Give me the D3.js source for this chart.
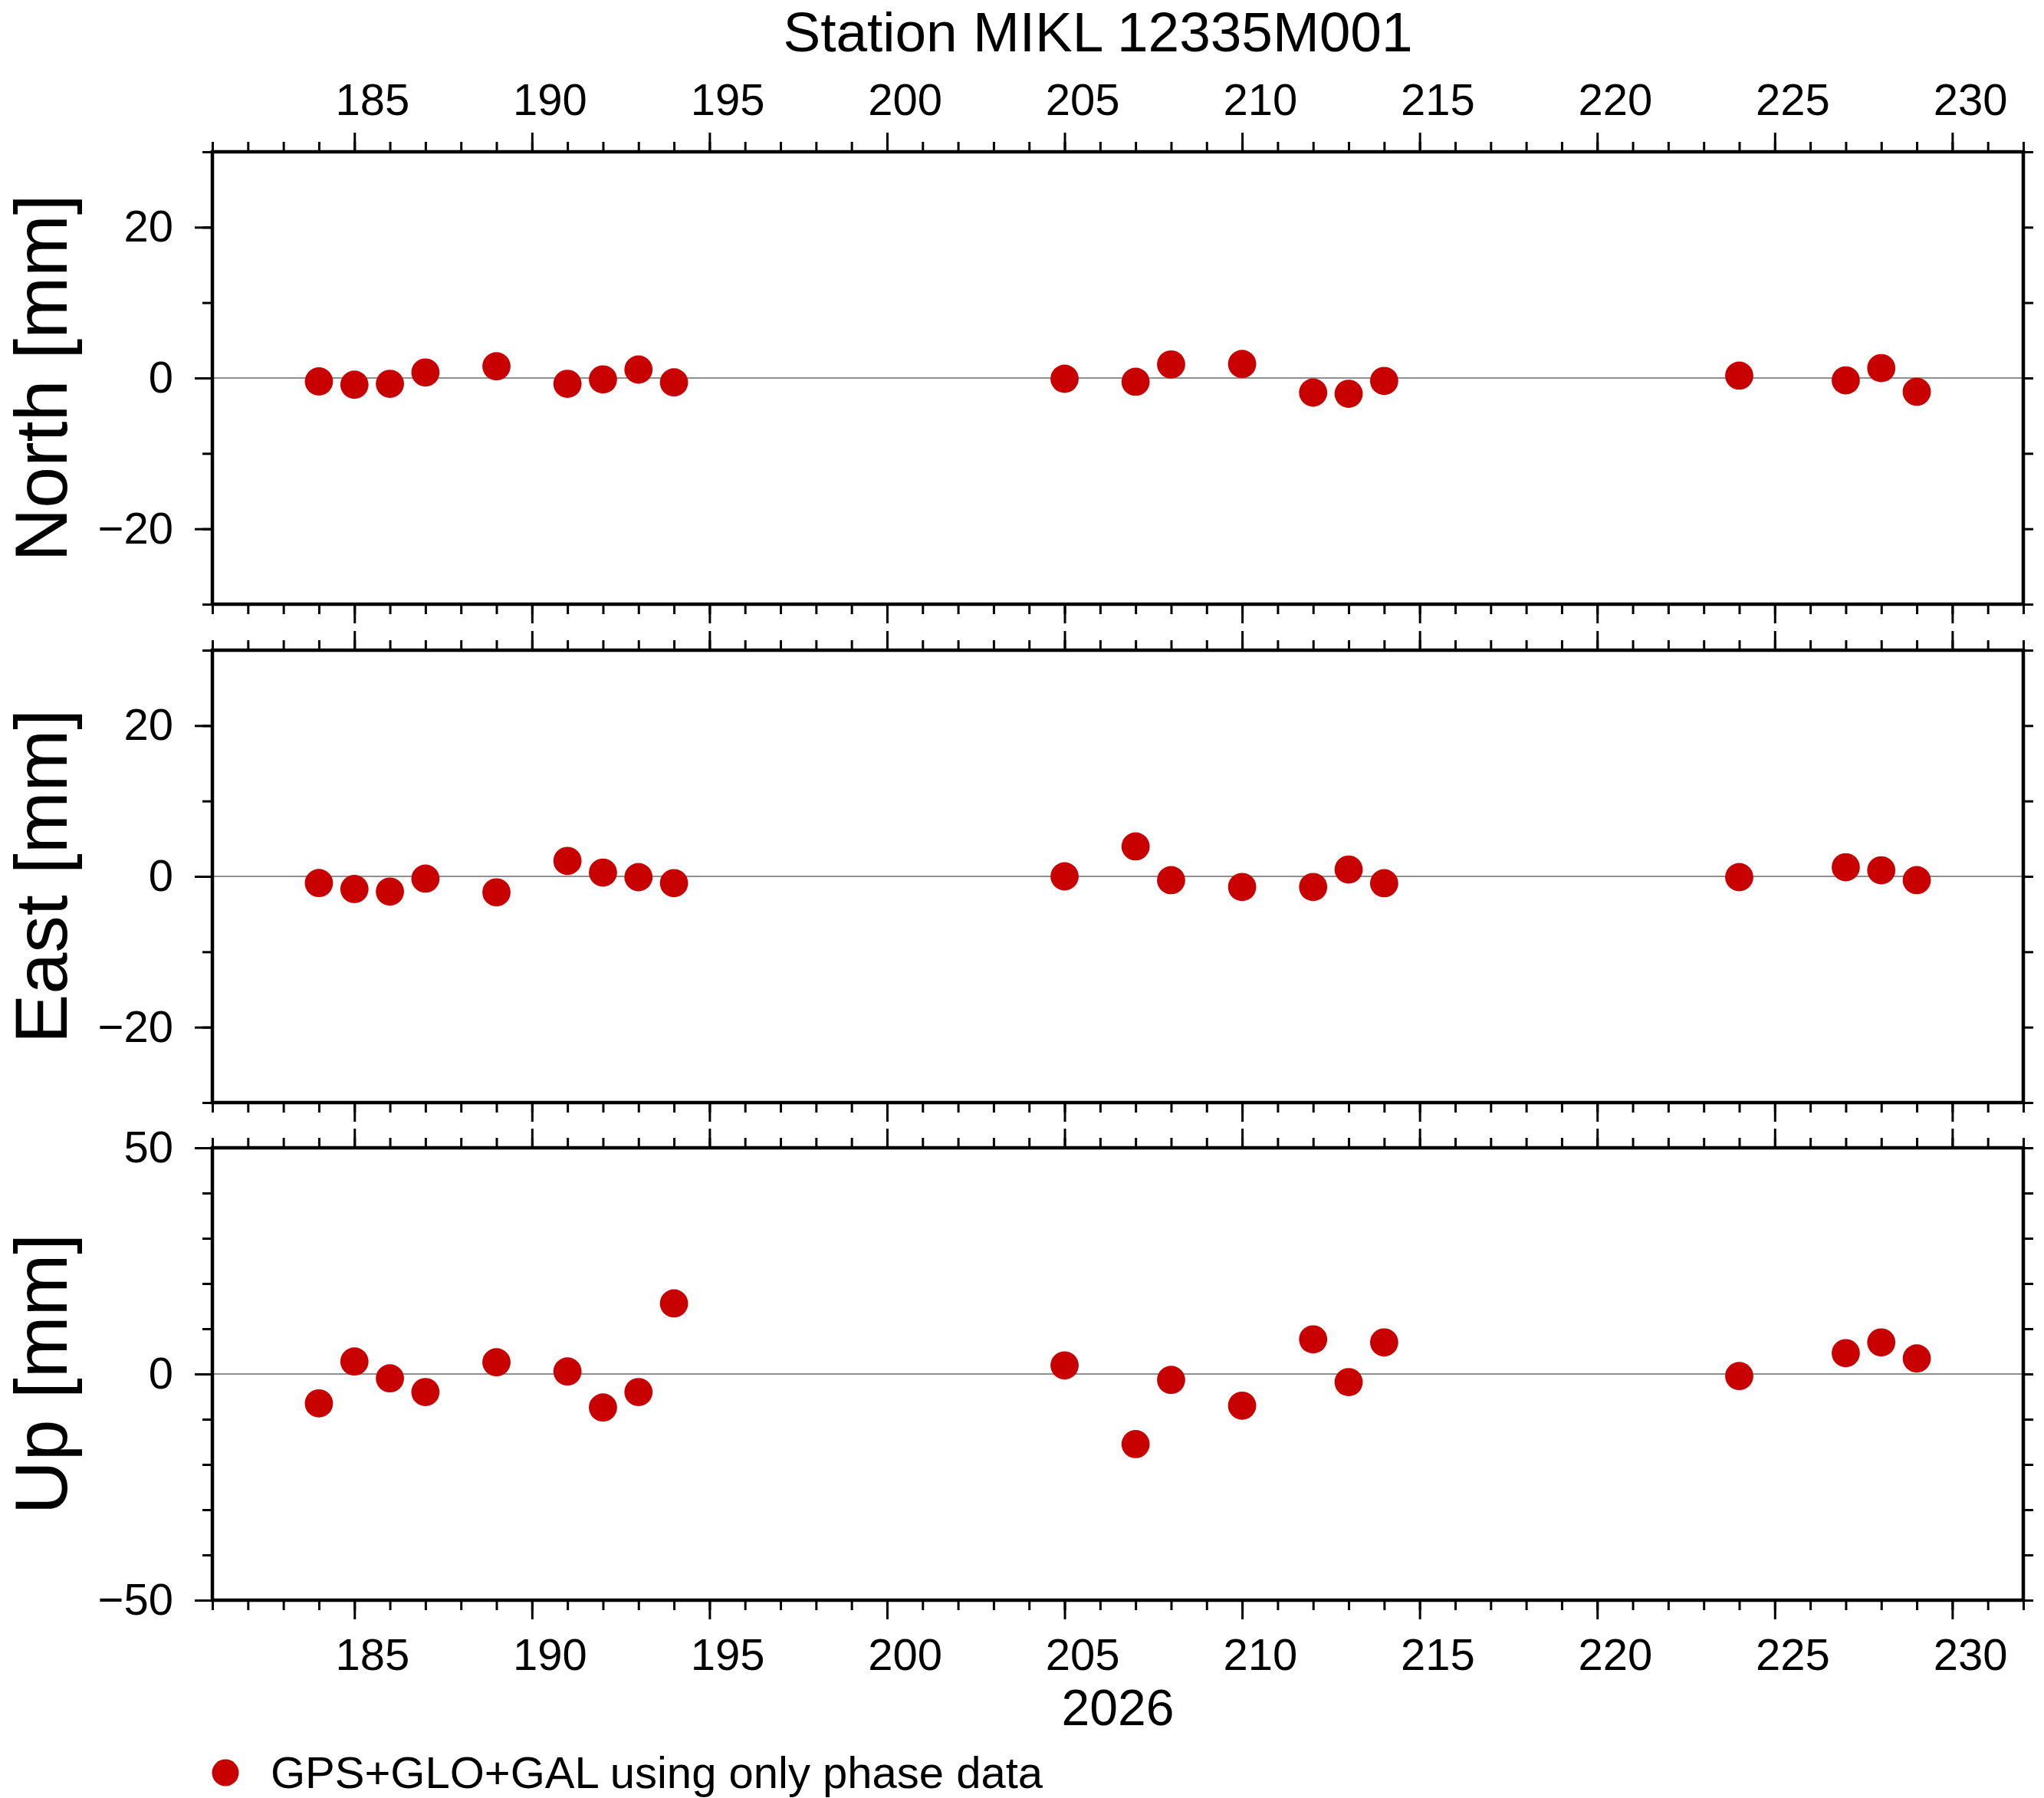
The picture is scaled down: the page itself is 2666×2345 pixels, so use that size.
<!DOCTYPE html>
<html lang="en">
<head>
  <meta charset="UTF-8">
  <script src="https://d3js.org/d3.v7.min.js"></script>
  <title>Station MIKL 12335M001</title>
  <style>
    body { margin: 0; background: white; }
    svg text { font-family: "Liberation Sans", Arial, Helvetica, sans-serif; fill: black; }
  </style>
</head>
<body>
<div id="chart"></div>
<script>
  // day of year 2026
  var days  = [184, 185, 186, 187, 189, 191, 192, 193, 194, 205, 207, 208, 210, 212, 213, 214, 224, 227, 228, 229];
  var north = [-0.46, -0.89, -0.77, 0.73, 1.55, -0.77, -0.19, 1.12, -0.58, -0.1, -0.5, 1.8, 1.86, -1.93, -2.09, -0.39, 0.31, -0.31, 1.31, -1.82];
  var east  = [-0.88, -1.68, -2.02, -0.30, -2.12, 2.05, 0.5, -0.1, -0.9, 0.0, 3.97, -0.5, -1.41, -1.41, 0.91, -0.91, -0.1, 1.21, 0.81, -0.5];
  var up    = [-6.5, 2.76, -0.96, -4.0, 2.6, 0.56, -7.4, -4.0, 15.6, 1.9, -15.5, -1.3, -7.0, 7.65, -1.8, 6.98, -0.45, 4.6, 6.98, 3.43];

  var panelNames = ["North [mm]", "East [mm]", "Up [mm]"];
  var panelRanges = [[-30, 30], [-30, 30], [-50, 50]];
  var panelMajor = [[-20, 0, 20], [-20, 0, 20], [-50, 0, 50]];
  var panelMinorStep = [10, 10, 10];
  var xDomain = [181, 232];
  var xMajor = d3.range(185, 231, 5);
  var titleText = "Station MIKL 12335M001";
  var yearText = "2026";
  var legendText = "GPS+GLO+GAL using only phase data";

  var W = 2666, H = 2345;
  var left = 277, right = 2639;
  var tops = [198, 848, 1497], ph = 590;
  var red = "#c80000";

  var svg = d3.select("#chart").append("svg")
    .attr("width", W).attr("height", H);

  var x = d3.scaleLinear().domain(xDomain).range([left, right]);
  var xMinor = d3.range(xDomain[0], xDomain[1] + 1, 1);
  var halfDay = (x(1) - x(0)) / 2;   // day labels sit in the middle of the day
  var series = [north, east, up];

  function styleAxis(g, sw) {
    g.select(".domain").remove();
    g.selectAll(".tick line").attr("stroke", "black").attr("stroke-width", sw);
    g.selectAll(".tick text").style("font-size", "58px");
  }

  series.forEach(function (vals, i) {
    var top = tops[i], bottom = top + ph;
    var y = d3.scaleLinear().domain(panelRanges[i]).range([bottom, top]);
    var yMinor = d3.range(panelRanges[i][0], panelRanges[i][1] + 1, panelMinorStep[i]);
    var g = svg.append("g");

    // zero line
    g.append("line")
      .attr("x1", left).attr("x2", right)
      .attr("y1", y(0)).attr("y2", y(0))
      .attr("stroke", "#222").attr("stroke-width", 1.2);

    // x ticks top and bottom of each panel
    g.append("g").attr("transform", "translate(0," + top + ")")
      .call(d3.axisTop(x).tickValues(xMinor).tickSize(13).tickFormat(""))
      .call(styleAxis, 3);
    g.append("g").attr("transform", "translate(0," + top + ")")
      .call(d3.axisTop(x).tickValues(xMajor).tickSize(25).tickPadding(23)
        .tickFormat(i === 0 ? d3.format("d") : ""))
      .call(styleAxis, 3)
      .selectAll(".tick text").attr("x", halfDay);
    g.append("g").attr("transform", "translate(0," + bottom + ")")
      .call(d3.axisBottom(x).tickValues(xMinor).tickSize(13).tickFormat(""))
      .call(styleAxis, 3);
    g.append("g").attr("transform", "translate(0," + bottom + ")")
      .call(d3.axisBottom(x).tickValues(xMajor).tickSize(25).tickPadding(25)
        .tickFormat(i === 2 ? d3.format("d") : ""))
      .call(styleAxis, 3)
      .selectAll(".tick text").attr("x", halfDay);

    // y ticks
    g.append("g").attr("transform", "translate(" + left + ",0)")
      .call(d3.axisLeft(y).tickValues(yMinor).tickSize(13).tickFormat(""))
      .call(styleAxis, 3);
    g.append("g").attr("transform", "translate(" + left + ",0)")
      .call(d3.axisLeft(y).tickValues(panelMajor[i]).tickSize(23).tickPadding(28))
      .call(styleAxis, 3);
    g.append("g").attr("transform", "translate(" + right + ",0)")
      .call(d3.axisRight(y).tickValues(yMinor).tickSize(13).tickFormat(""))
      .call(styleAxis, 3);

    // frame
    g.append("rect")
      .attr("x", left).attr("y", top)
      .attr("width", right - left).attr("height", ph)
      .attr("fill", "none").attr("stroke", "black").attr("stroke-width", 4.5);

    // points
    g.selectAll("circle.pt")
      .data(days.map(function (d, k) { return [d, vals[k]]; }))
      .enter().append("circle")
      .attr("class", "pt")
      .attr("cx", function (d) { return x(d[0]); })
      .attr("cy", function (d) { return y(d[1]); })
      .attr("r", 18.4)
      .attr("fill", red);

    // y label
    svg.append("text")
      .attr("transform", "translate(87," + (top + ph / 2) + ") rotate(-90)")
      .attr("text-anchor", "middle")
      .style("font-size", "97px")
      .text(panelNames[i]);
  });

  // title
  svg.append("text")
    .attr("x", 1432).attr("y", 67)
    .attr("text-anchor", "middle")
    .style("font-size", "73px")
    .text(titleText);

  // year label
  svg.append("text")
    .attr("x", (left + right) / 2).attr("y", 2250)
    .attr("text-anchor", "middle")
    .style("font-size", "66px")
    .text(yearText);

  // legend
  svg.append("circle")
    .attr("cx", 294).attr("cy", 2312).attr("r", 17.5)
    .attr("fill", red);
  svg.append("text")
    .attr("x", 353).attr("y", 2332)
    .style("font-size", "58px")
    .text(legendText);
</script>
</body>
</html>
